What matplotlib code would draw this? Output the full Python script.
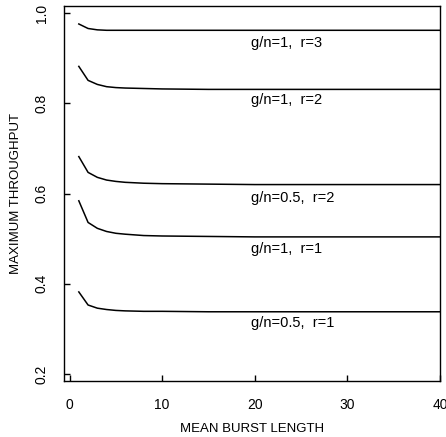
import matplotlib
matplotlib.use("Agg")
import matplotlib.pyplot as plt

plt.rcParams["font.family"] = ["Liberation Sans", "DejaVu Sans"]

burst = [1, 2, 3, 4, 5, 6, 8, 10, 15, 20, 30, 40]
curves = {
    "g/n=1,  r=3": [0.976, 0.966, 0.963, 0.962, 0.962, 0.962, 0.962, 0.962, 0.962, 0.962, 0.962, 0.962],
    "g/n=1,  r=2": [0.882, 0.851, 0.842, 0.837, 0.835, 0.834, 0.833, 0.832, 0.831, 0.831, 0.831, 0.831],
    "g/n=0.5,  r=2": [0.682, 0.647, 0.636, 0.630, 0.627, 0.625, 0.623, 0.622, 0.621, 0.620, 0.620, 0.620],
    "g/n=1,  r=1": [0.584, 0.536, 0.523, 0.516, 0.512, 0.510, 0.507, 0.506, 0.505, 0.504, 0.504, 0.504],
    "g/n=0.5,  r=1": [0.382, 0.353, 0.346, 0.343, 0.341, 0.340, 0.339, 0.339, 0.338, 0.338, 0.338, 0.338],
}
label_y = [0.933, 0.807, 0.591, 0.478, 0.314]
label_x = 19.6

fig = plt.figure(figsize=(4.46, 4.37), dpi=100)
ax = fig.add_axes([0.1435, 0.128, 0.843, 0.858])

for (name, vals), ly in zip(curves.items(), label_y):
    ax.plot(burst, vals, color="black", linewidth=1.1)
    ax.text(label_x, ly, name, fontsize=10.5, va="center", ha="left")

ax.set_xlim(-0.6, 40)
ax.set_ylim(0.1844, 1.0156)
ax.set_xticks([0, 10, 20, 30, 40])
ax.set_yticks([0.2, 0.4, 0.6, 0.8, 1.0])
ax.set_yticklabels(["0.2", "0.4", "0.6", "0.8", "1.0"], rotation=90, va="center")
ax.tick_params(direction="in", length=4, labelsize=10, width=1)
ax.tick_params(axis="x", pad=12)
ax.tick_params(axis="y", pad=11)
for s in ax.spines.values():
    s.set_linewidth(1)

ax.set_xlabel("MEAN BURST LENGTH", fontsize=9.5, labelpad=8)
ax.set_ylabel("MAXIMUM THROUGHPUT", fontsize=9.5, labelpad=9)

fig.savefig("out.png", dpi=100)
